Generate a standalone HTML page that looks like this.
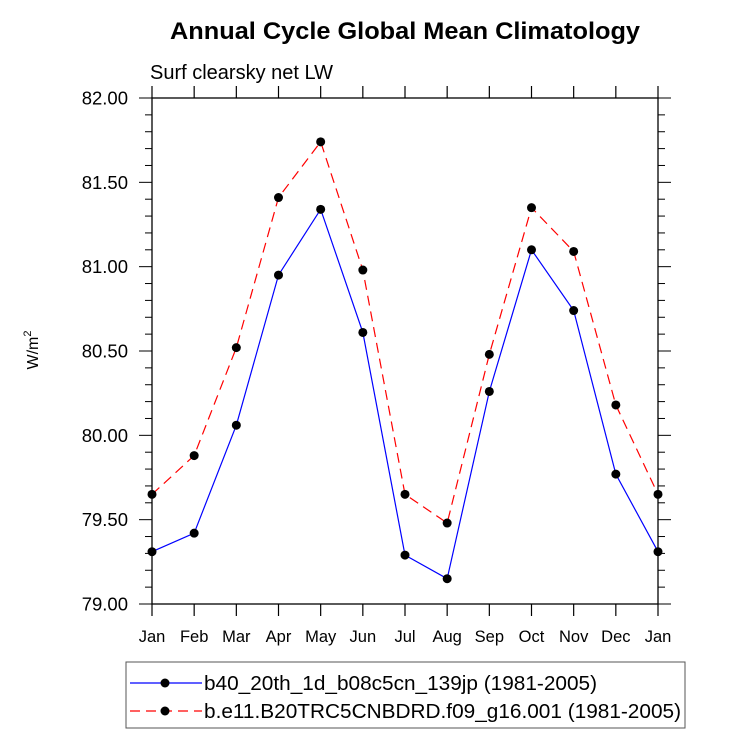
<!DOCTYPE html>
<html><head><meta charset="utf-8"><style>body{margin:0;background:#fff}svg{display:block;font-family:"Liberation Sans",Arial,sans-serif}</style></head>
<body>
<svg width="733" height="751" viewBox="0 0 733 751">
<text x="405" y="39" text-anchor="middle" font-size="24" font-weight="bold" textLength="470" lengthAdjust="spacingAndGlyphs">Annual Cycle Global Mean Climatology</text>
<text x="150" y="79" font-size="20">Surf clearsky net LW</text>
<text transform="translate(38,350) rotate(-90)" text-anchor="middle" font-size="16">W/m<tspan dy="-7" font-size="11">2</tspan></text>
<g id="axes"></g>
<g id="series"></g>
<rect x="126" y="662" width="559" height="66" fill="none" stroke="#555" stroke-width="1"/>
<g>
<line x1="130" y1="683" x2="202" y2="683" stroke="#0000ff" stroke-width="1.2"/><circle cx="165" cy="683" r="4.5"/>
<text x="204" y="690" font-size="20" textLength="393" lengthAdjust="spacingAndGlyphs">b40_20th_1d_b08c5cn_139jp (1981-2005)</text></g>
<g>
<line x1="130" y1="711" x2="202" y2="711" stroke="#ff0000" stroke-width="1.2" stroke-dasharray="10,6"/><circle cx="165" cy="711" r="4.5"/>
<text x="204" y="718" font-size="20" textLength="477" lengthAdjust="spacingAndGlyphs">b.e11.B20TRC5CNBDRD.f09_g16.001 (1981-2005)</text></g>
</svg>
<script>
const months=["Jan","Feb","Mar","Apr","May","Jun","Jul","Aug","Sep","Oct","Nov","Dec","Jan"];
const seriesB40=[79.31,79.42,80.06,80.95,81.34,80.61,79.29,79.15,80.26,81.10,80.74,79.77,79.31];
const seriesBE11=[79.65,79.88,80.52,81.41,81.74,80.98,79.65,79.48,80.48,81.35,81.09,80.18,79.65];
const yTicks=[79.00,79.50,80.00,80.50,81.00,81.50,82.00];
const NS="http://www.w3.org/2000/svg";
const L=152,R=658,T=98,B=604,ymin=79,ymax=82;
const xs=i=>L+(R-L)*i/(months.length-1);
const ys=v=>B-(v-ymin)/(ymax-ymin)*(B-T);
function mk(t,a,p){const e=document.createElementNS(NS,t);for(const k in a)e.setAttribute(k,a[k]);p.appendChild(e);return e;}
const ax=document.getElementById('axes');
const fr=mk('rect',{x:L,y:T,width:R-L,height:B-T,fill:'none',stroke:'#000','stroke-width':1.3},ax);


months.forEach((m,i)=>{const x=xs(i);
mk('line',{x1:x,y1:B,x2:x,y2:B+12,stroke:'#000','stroke-width':1.2},ax);
mk('line',{x1:x,y1:T,x2:x,y2:T-12,stroke:'#000','stroke-width':1.2},ax);
const t=mk('text',{x:x,y:642,'text-anchor':'middle','font-size':16.5},ax);t.textContent=m;

});
for(let v=ymin;v<=ymax+1e-9;v+=0.1){const y=ys(v);const maj=Math.abs(v*2-Math.round(v*2))<1e-6;const len=maj?13:7;
mk('line',{x1:L,y1:y,x2:L-len,y2:y,stroke:'#000','stroke-width':1},ax);
mk('line',{x1:R,y1:y,x2:R+len,y2:y,stroke:'#000','stroke-width':1},ax);}
yTicks.forEach(v=>{const t=mk('text',{x:128,y:ys(v)+6.5,'text-anchor':'end','font-size':18.5},ax);t.textContent=v.toFixed(2);

});
const sg=document.getElementById('series');
function draw(vals,color,dash,name){const g=mk('g',{},sg);


mk('polyline',{points:vals.map((v,i)=>xs(i)+','+ys(v)).join(' '),fill:'none',stroke:color,'stroke-width':1.2,'stroke-dasharray':dash},g);
vals.forEach((v,i)=>{const c=mk('circle',{cx:xs(i),cy:ys(v),r:4.5,fill:'#000'},g);

});}
draw(seriesBE11,'#ff0000','10,6','series-be11');
draw(seriesB40,'#0000ff','none','series-b40');
</script>
</body></html>
